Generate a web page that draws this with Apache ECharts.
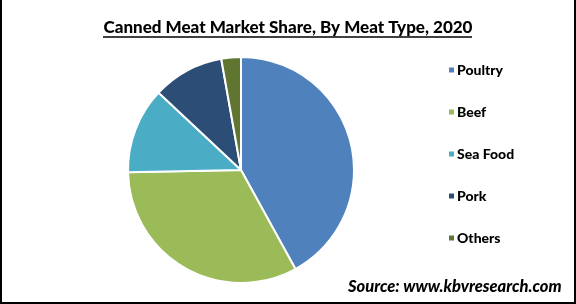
<!DOCTYPE html>
<html>
<head>
<meta charset="utf-8">
<script src="https://cdn.jsdelivr.net/npm/echarts@6/dist/echarts.min.js"></script>
<style>
html,body{margin:0;padding:0;background:#fff;}
#c{width:576px;height:304px;}
</style>
</head>
<body>
<div id="c"></div>
<script>
var categories = ['Poultry', 'Beef', 'Sea Food', 'Pork', 'Others'];
var shares = [42.0, 32.7, 12.3, 10.2, 2.8];
var colors = ['#4F81BD', '#9BBB59', '#4BACC6', '#2C4D75', '#5F7530'];
var titleText = 'Canned Meat Market Share, By Meat Type, 2020';
var sourceText = 'Source: www.kbvresearch.com';

var chart = echarts.init(document.getElementById('c'), null, {renderer: 'canvas'});
chart.setOption({
  animation: false,
  title: {
    text: titleText,
    left: 'center',
    top: 14,
    textStyle: {fontFamily: 'Lato', fontWeight: 900, fontSize: 17, color: '#000'}
  },
  legend: {
    orient: 'vertical',
    left: 442,
    top: 58,
    itemWidth: 7,
    itemHeight: 7,
    itemGap: 28,
    icon: 'rect',
    data: categories,
    textStyle: {fontFamily: 'Lato', fontWeight: 900, fontSize: 14, color: '#000', padding: [0,0,0,-3]}
  },
  series: [{
    type: 'pie',
    center: [241, 170],
    radius: 113,
    startAngle: 90,
    clockwise: true,
    label: {show: false},
    labelLine: {show: false},
    itemStyle: {borderColor: '#fff', borderWidth: 2},
    data: categories.map(function (n, i) {
      return {name: n, value: shares[i], itemStyle: {color: colors[i]}};
    })
  }],
  graphic: [
    {type: 'line', shape: {x1: 103, y1: 37, x2: 472, y2: 37}, style: {stroke: '#000', lineWidth: 1.5}},
    {type: 'text', left: 348, top: 278, style: {text: sourceText, fontFamily: 'Lato', fontWeight: 900, fontStyle: 'italic', fontSize: 16.5, fill: '#000'}},
    {type: 'polyline', shape: {points: [[1, 0], [1, 303], [575, 303], [575, 0]]}, style: {stroke: '#000', lineWidth: 2, fill: null}}
  ]
});
</script>
</body>
</html>
